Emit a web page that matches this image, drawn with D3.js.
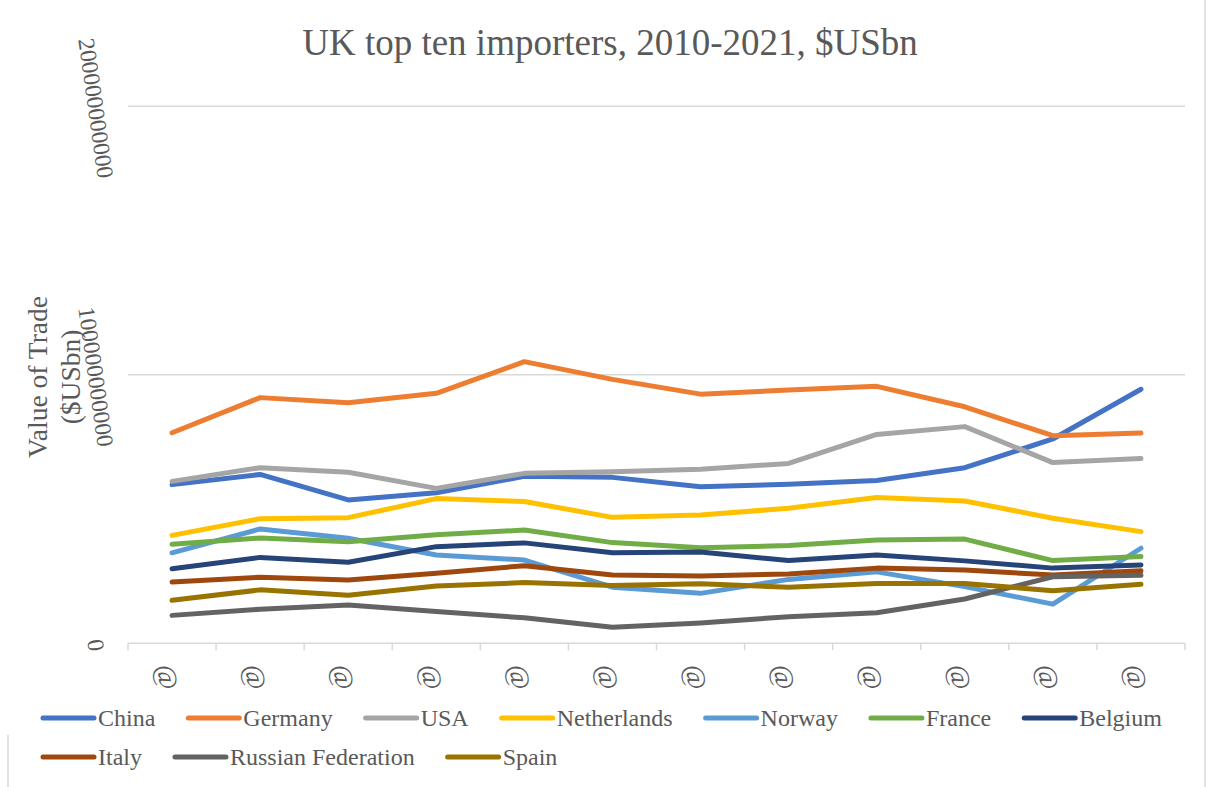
<!DOCTYPE html>
<html>
<head>
<meta charset="utf-8">
<script src="https://cdn.jsdelivr.net/npm/d3@7"></script>
<style>
  html, body { margin: 0; padding: 0; background: #fff; }
  svg { display: block; font-family: "Liberation Serif", "Times New Roman", serif; }
</style>
</head>
<body>
<svg id="chart" width="1209" height="787"></svg>
<script>
// Years shown on the category axis, and the glyph used as each axis label
const years = [2010, 2011, 2012, 2013, 2014, 2015, 2016, 2017, 2018, 2019, 2020, 2021];
const xLabels = ["@", "@", "@", "@", "@", "@", "@", "@", "@", "@", "@", "@"];

// Value axis ticks, in $US billions
const yTicks = [0, 100, 200];

// Import values per partner, $US billions
const china       = [59.1, 62.9, 53.4, 56.1, 62.2, 61.8, 58.3, 59.2, 60.6, 65.4, 76.1, 94.6];
const germany     = [78.4, 91.5, 89.6, 93.1, 104.9, 98.3, 92.8, 94.3, 95.7, 88.1, 77.3, 78.3];
const usa         = [60.3, 65.4, 63.7, 57.7, 63.3, 63.9, 64.8, 67.0, 77.8, 80.7, 67.3, 68.8];
const netherlands = [40.2, 46.4, 46.8, 53.9, 52.8, 46.9, 47.8, 50.3, 54.3, 53.0, 46.6, 41.6];
const norway      = [33.7, 42.6, 39.1, 32.9, 31.0, 20.9, 18.6, 23.8, 26.6, 21.1, 14.6, 35.4];
const france      = [36.9, 39.2, 37.8, 40.4, 42.2, 37.5, 35.6, 36.4, 38.5, 38.8, 30.8, 32.3];
const belgium     = [27.8, 32.0, 30.2, 36.0, 37.4, 33.7, 34.0, 30.8, 32.9, 30.7, 28.0, 29.2];
const italy       = [22.8, 24.6, 23.6, 26.1, 28.9, 25.4, 25.1, 25.8, 28.0, 27.3, 25.4, 27.0];
const russia      = [10.4, 12.7, 14.3, 11.8, 9.5, 6.0, 7.6, 9.9, 11.4, 16.5, 24.8, 25.3];
const spain       = [16.0, 19.9, 17.9, 21.3, 22.6, 21.5, 22.2, 20.9, 22.3, 22.3, 19.6, 22.0];

const seriesNames  = ["China", "Germany", "USA", "Netherlands", "Norway", "France", "Belgium", "Italy", "Russian Federation", "Spain"];
const seriesValues = [china, germany, usa, netherlands, norway, france, belgium, italy, russia, spain];
const seriesColors = ["#4472C4", "#ED7D31", "#A5A5A5", "#FFC000", "#5B9BD5", "#70AD47", "#264478", "#9E480E", "#636363", "#997300"];

const series = seriesNames.map((name, i) => ({ name, values: seriesValues[i], color: seriesColors[i] }));

const svg = d3.select("#chart");
const textColor = "#595959";
const gridColor = "#D9D9D9";

// Outer frame edges
svg.append("line").attr("x1", 1205).attr("x2", 1205).attr("y1", 0).attr("y2", 787)
  .attr("stroke", gridColor).attr("stroke-width", 1.5);
svg.append("line").attr("x1", 8).attr("x2", 8).attr("y1", 735).attr("y2", 787)
  .attr("stroke", gridColor).attr("stroke-width", 1.5);

// Scales
const x = d3.scaleBand().domain(years).range([128, 1185]).paddingInner(0).paddingOuter(0);
const y = d3.scaleLinear().domain([0, 200]).range([643.3, 106.3]);

// Horizontal gridlines
svg.append("g").selectAll("line").data(yTicks.filter(d => d > 0)).join("line")
  .attr("x1", 128).attr("x2", 1185)
  .attr("y1", d => y(d)).attr("y2", d => y(d))
  .attr("stroke", gridColor).attr("stroke-width", 1.5);

// Category axis line and tick marks at category boundaries
svg.append("line").attr("x1", 128).attr("x2", 1185).attr("y1", y(0)).attr("y2", y(0))
  .attr("stroke", gridColor).attr("stroke-width", 1.5);
const boundaries = years.map(d => x(d)).concat([x(years[years.length - 1]) + x.bandwidth()]);
svg.append("g").selectAll("line").data(boundaries).join("line")
  .attr("x1", d => d).attr("x2", d => d)
  .attr("y1", y(0)).attr("y2", y(0) + 7)
  .attr("stroke", gridColor).attr("stroke-width", 1.5);

// Value tick labels, written out in full dollars and turned on their side
const fmt = d3.format("d");
svg.append("g").selectAll("text").data(yTicks).join("text")
  .attr("transform", d => `translate(96,${y(d) + 2}) rotate(82)`)
  .attr("text-anchor", "middle")
  .attr("dominant-baseline", "central")
  .attr("font-size", 23.5)
  .attr("fill", textColor)
  .text(d => fmt(d * 1e9));

// Category labels
svg.append("g").selectAll("text").data(years).join("text")
  .attr("transform", d => `translate(${x(d) + x.bandwidth() / 2 - 5},677) rotate(82)`)
  .attr("text-anchor", "middle")
  .attr("dominant-baseline", "central")
  .attr("font-size", 27)
  .attr("fill", textColor)
  .text((d, i) => xLabels[i]);

// Series lines
const line = d3.line()
  .x((d, i) => x(years[i]) + x.bandwidth() / 2)
  .y(d => y(d));

svg.append("g").selectAll("path").data(series).join("path")
  .attr("d", d => line(d.values))
  .attr("fill", "none")
  .attr("stroke", d => d.color)
  .attr("stroke-width", 5)
  .attr("stroke-linecap", "round")
  .attr("stroke-linejoin", "round");

// Title
svg.append("text")
  .attr("x", 610).attr("y", 55)
  .attr("text-anchor", "middle")
  .attr("font-size", 37)
  .attr("fill", textColor)
  .text("UK top ten importers, 2010-2021, $USbn");

// Value axis title
const yTitle = svg.append("g").attr("transform", "translate(0,377) rotate(-90)");
yTitle.append("text").attr("x", 0).attr("y", 47).attr("text-anchor", "middle")
  .attr("font-size", 27.5).attr("fill", textColor).text("Value of Trade");
yTitle.append("text").attr("x", 0).attr("y", 80).attr("text-anchor", "middle")
  .attr("font-size", 27.5).attr("fill", textColor).text("($USbn)");

// Legend in two rows
const legendRows = [seriesNames.slice(0, 7), seriesNames.slice(7)];
const rowY = [718, 757];
legendRows.forEach((names, r) => {
  let cx = 43;
  names.forEach(name => {
    const s = series.find(d => d.name === name);
    const g = svg.append("g");
    g.append("line")
      .attr("x1", cx).attr("x2", cx + 51).attr("y1", rowY[r]).attr("y2", rowY[r])
      .attr("stroke", s.color).attr("stroke-width", 5).attr("stroke-linecap", "round");
    const t = g.append("text")
      .attr("x", cx + 55).attr("y", rowY[r])
      .attr("dominant-baseline", "central")
      .attr("font-size", 24)
      .attr("fill", textColor)
      .text(name);
    cx = cx + 55 + t.node().getComputedTextLength() + 33;
  });
});
</script>
</body>
</html>
